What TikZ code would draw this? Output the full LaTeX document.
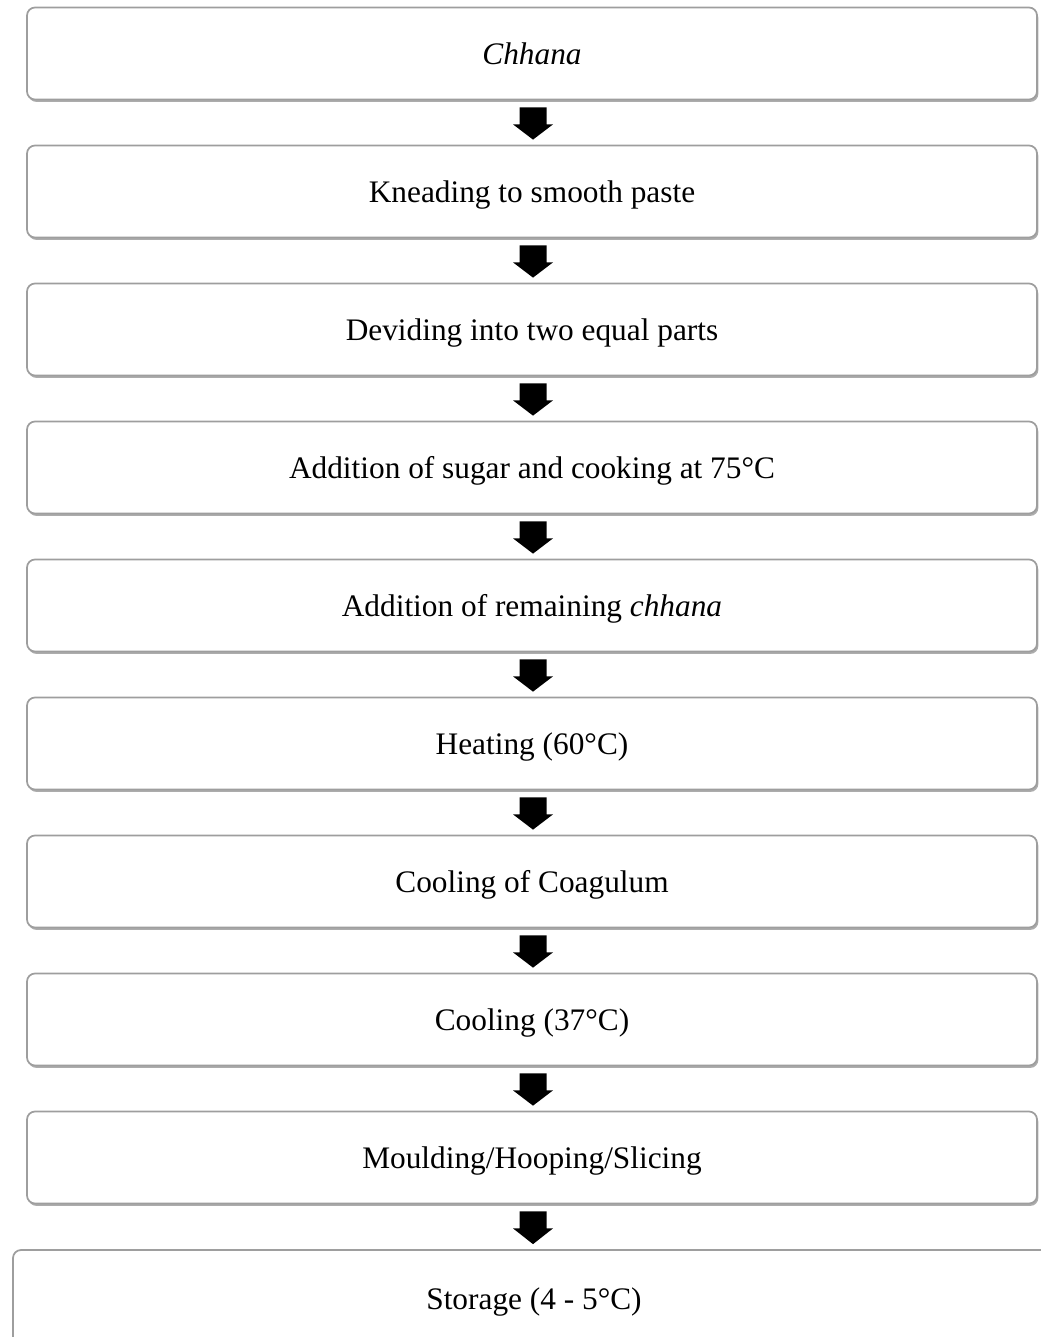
\documentclass[tikz,border=0pt]{standalone}
\usepackage{fontspec}
\setmainfont{Liberation Serif}
\usetikzlibrary{shadows,calc}
\begin{document}
\begin{tikzpicture}[x=0.75pt,y=-0.75pt,
  stepbox/.style={draw=black!38, line width=1.3pt, rounded corners=6pt, fill=white,
    minimum width=757.5pt, minimum height=69pt, inner sep=0pt,
    text height=21.5pt, text depth=5pt,
    font=\fontsize{23.5pt}{28pt}\selectfont,
    drop shadow={shadow xshift=1pt, shadow yshift=-1.8pt, fill=black!65, opacity=0.5}},
  lastbox/.style={stepbox, minimum width=781.5pt, minimum height=72pt},
  flowfill/.style={fill=black}]
\useasboundingbox (0,0) rectangle (1041,1337);
\clip (0,0) rectangle (1041,1337);
\node[stepbox] (b1) at (532,53.5) {\itshape Chhana};
\node[stepbox] (b2) at (532,191.5) {Kneading to smooth paste};
\node[stepbox] (b3) at (532,329.5) {Deviding into two equal parts};
\node[stepbox] (b4) at (532,467.5) {Addition of sugar and cooking at 75°C};
\node[stepbox] (b5) at (532,605.5) {Addition of remaining \textit{chhana}};
\node[stepbox] (b6) at (532,743.5) {Heating (60°C)};
\node[stepbox] (b7) at (532,881.5) {Cooling of Coagulum};
\node[stepbox] (b8) at (532,1019.5) {Cooling (37°C)};
\node[stepbox] (b9) at (532,1157.5) {Moulding/Hooping/Slicing};
\node[lastbox] (b10) at (534,1298) {Storage (4 - 5°C)};
\foreach \a/\b in {b1/b2,b2/b3,b3/b4,b4/b5,b5/b6,b6/b7,b7/b8,b8/b9,b9/b10}{
  \fill[flowfill] let \p1=($(\a.south)$), \p2=($(\b.north)$) in
    ($(\x1,\y1)+(-12.5,7)$) -- ($(\x1,\y1)+(14.5,7)$) -- ($(\x1,\y1)+(14.5,24)$)
    -- ($(\x1,\y1)+(21,24)$) -- ($(\x1,\y2)+(1,-5)$) -- ($(\x1,\y1)+(-19,24)$)
    -- ($(\x1,\y1)+(-12.5,24)$) -- cycle;
}
\end{tikzpicture}
\end{document}
